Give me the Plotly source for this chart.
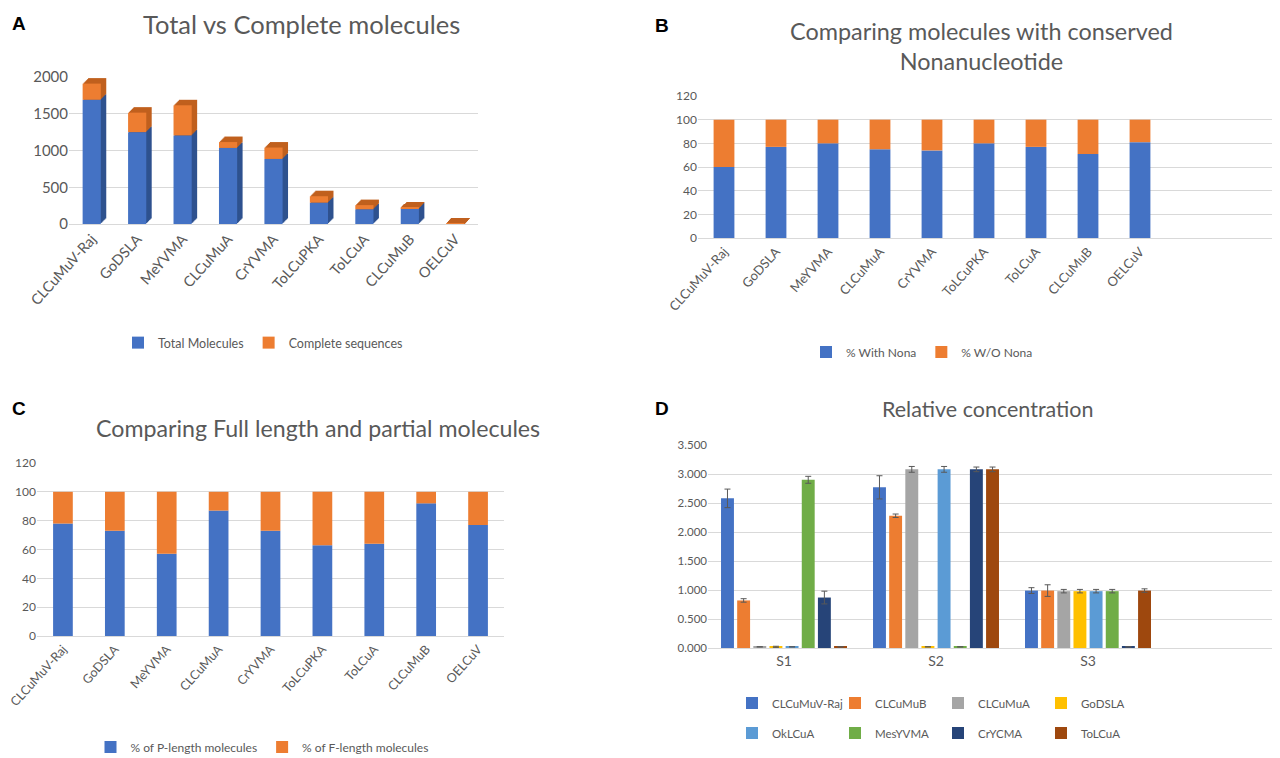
import plotly.graph_objects as go

# ---------------- data ----------------
cats = ["CLCuMuV-Raj", "GoDSLA", "MeYVMA", "CLCuMuA", "CrYVMA",
        "ToLCuPKA", "ToLCuA", "CLCuMuB", "OELCuV"]

# Panel A
total_molecules = [1690, 1250, 1205, 1035, 885, 290, 200, 212, 0]
complete_sequences = [220, 265, 410, 80, 155, 88, 57, 10, 6]
a_ticks = [0, 500, 1000, 1500, 2000]

# Panel B
with_nona = [60, 77, 80, 75, 74, 80, 77, 71, 81]
without_nona = [40, 23, 20, 25, 26, 20, 23, 29, 19]

# Panel C
p_length = [78, 73, 57, 87, 73, 63, 64, 92, 77]
f_length = [22, 27, 43, 13, 27, 37, 36, 8, 23]
pct_ticks = [0, 20, 40, 60, 80, 100, 120]

# Panel D
samples = ["S1", "S2", "S3"]
d_series = ["CLCuMuV-Raj", "CLCuMuB", "CLCuMuA", "GoDSLA",
            "OkLCuA", "MesYVMA", "CrYCMA", "ToLCuA"]
conc_clcumuv_raj = [2.58, 2.77, 0.99]
conc_clcumub = [0.82, 2.28, 0.99]
conc_clcumua = [0.02, 3.08, 0.98]
conc_godsla = [0.02, 0.02, 0.98]
conc_oklcua = [0.02, 3.08, 0.98]
conc_mesyvma = [2.90, 0.02, 0.98]
conc_crycma = [0.87, 3.08, 0.02]
conc_tolcua = [0.02, 3.08, 0.99]
err_clcumuv_raj = [0.16, 0.20, 0.05]
err_clcumub = [0.03, 0.03, 0.10]
err_clcumua = [0.0, 0.05, 0.03]
err_godsla = [0.01, 0.0, 0.03]
err_oklcua = [0.0, 0.05, 0.03]
err_mesyvma = [0.06, 0.0, 0.03]
err_crycma = [0.11, 0.04, 0.0]
err_tolcua = [0.0, 0.04, 0.03]
d_ticks = [0, 0.5, 1.0, 1.5, 2.0, 2.5, 3.0, 3.5]

# ---------------- styles ----------------
BLUE = "#4472C4"
ORANGE = "#ED7D31"
BLUE_DARK = "#2F528F"
ORANGE_DARK = "#C0601E"
d_colors = ["#4472C4", "#ED7D31", "#A5A5A5", "#FFC000",
            "#5B9BD5", "#70AD47", "#264478", "#9E480E"]
d_vals = [conc_clcumuv_raj, conc_clcumub, conc_clcumua, conc_godsla,
          conc_oklcua, conc_mesyvma, conc_crycma, conc_tolcua]
d_errs = [err_clcumuv_raj, err_clcumub, err_clcumua, err_godsla,
          err_oklcua, err_mesyvma, err_crycma, err_tolcua]

FONT = "Lato"
GRAY = "#595959"
GRID = "#D9D9D9"
W, H = 1280, 758
OFF = 8  # page body margin in the browser
RIGHT = W + OFF  # right edge of the figure, in page pixels

# pseudo-3D depth of panel A bars (style only)
DEPTH_X = 0.12     # category units
DEPTH_Y = 75       # value units
DEPTH_STEPS = 6
A_W = 0.4
ANGLE = -48


def px_x(a, b):
    return [(a - OFF) / W, (b - OFF) / W]


def px_y(top, bottom):
    return [1 - (bottom - OFF) / H, 1 - (top - OFF) / H]


def pxx(a):
    return (a - OFF) / W


def pxy(a):
    return 1 - (a - OFF) / H


fig = go.Figure()

# Panel A: depth faces, drawn back to front in small steps
for s in range(DEPTH_STEPS, 0, -1):
    k = s / DEPTH_STEPS
    fig.add_trace(go.Bar(x=cats, y=total_molecules,
                         base=[DEPTH_Y * k] * len(cats),
                         marker=dict(color=BLUE_DARK, line=dict(width=0)),
                         width=A_W, offset=-A_W / 2 + DEPTH_X * k,
                         xaxis="x", yaxis="y", showlegend=False,
                         hoverinfo="skip"))
    fig.add_trace(go.Bar(x=cats, y=complete_sequences,
                         base=[t + DEPTH_Y * k for t in total_molecules],
                         marker=dict(color=ORANGE_DARK, line=dict(width=0)),
                         width=A_W, offset=-A_W / 2 + DEPTH_X * k,
                         xaxis="x", yaxis="y", showlegend=False,
                         hoverinfo="skip"))
fig.add_trace(go.Bar(x=cats, y=total_molecules, name="Total Molecules",
                     marker=dict(color=BLUE, line=dict(width=0)),
                     width=A_W, offset=-A_W / 2,
                     xaxis="x", yaxis="y", legend="legend"))
fig.add_trace(go.Bar(x=cats, y=complete_sequences, base=total_molecules,
                     name="Complete sequences",
                     marker=dict(color=ORANGE, line=dict(width=0)),
                     width=A_W, offset=-A_W / 2,
                     xaxis="x", yaxis="y", legend="legend"))

# Panel B
fig.add_trace(go.Bar(x=cats, y=with_nona, name="% With Nona",
                     marker_color=BLUE, width=0.4, offset=-0.2,
                     xaxis="x2", yaxis="y2", legend="legend2"))
fig.add_trace(go.Bar(x=cats, y=without_nona, base=with_nona,
                     name="% W/O Nona", marker_color=ORANGE, width=0.4,
                     offset=-0.2, xaxis="x2", yaxis="y2", legend="legend2"))

# Panel C
fig.add_trace(go.Bar(x=cats, y=p_length, name="% of P-length molecules",
                     marker_color=BLUE, width=0.38, offset=-0.19,
                     xaxis="x3", yaxis="y3", legend="legend3"))
fig.add_trace(go.Bar(x=cats, y=f_length, base=p_length,
                     name="% of F-length molecules", marker_color=ORANGE,
                     width=0.38, offset=-0.19, xaxis="x3", yaxis="y3",
                     legend="legend3"))

# Panel D
for i, (nm, col, vals, errs) in enumerate(zip(d_series, d_colors, d_vals, d_errs)):
    fig.add_trace(go.Bar(
        x=samples, y=vals, name=nm, marker_color=col,
        error_y=dict(type="data", array=errs, color=GRAY, thickness=1, width=3),
        xaxis="x4", yaxis="y4",
        legend="legend4" if i < 4 else "legend5"))


def yax(domain, rng, ticks, font, fmt=None, anchor="x"):
    d = dict(domain=domain, range=rng, tickvals=ticks, showgrid=True,
             gridcolor=GRID, gridwidth=1, zeroline=False, showline=False,
             ticks="", tickfont=font, anchor=anchor, fixedrange=True,
             automargin=False)
    if fmt:
        d["tickformat"] = fmt
    return d


def xax(domain, rng, anchor, font, angle=ANGLE):
    return dict(domain=domain, range=rng, anchor=anchor, showgrid=False,
                showline=True, linecolor=GRID, linewidth=1, ticks="",
                tickangle=angle, tickfont=font, fixedrange=True,
                automargin=False)


def f(size):
    return dict(family=FONT, size=size, color=GRAY)


fig.update_layout(
    template="none",
    width=W, height=H,
    margin=dict(l=0, r=0, t=0, b=0, autoexpand=False),
    paper_bgcolor="white", plot_bgcolor="white",
    barmode="group", bargap=0.15, bargroupgap=0.2,
    font=dict(family=FONT, color=GRAY),
    # Panel A axes
    xaxis=xax(px_x(69, 478), [-0.5, 8.5], "y", f(14.5)),
    yaxis=yax(px_y(77, 224), [0, 2000], a_ticks, f(15), anchor="x"),
    # Panel B axes
    xaxis2=xax(px_x(698, RIGHT), [-0.5, -0.5 + (RIGHT - 698) / 52], "y2", f(13)),
    yaxis2=yax(px_y(96, 238), [0, 120], pct_ticks, f(12), anchor="x2"),
    # Panel C axes
    xaxis3=xax(px_x(37, 504), [-0.5, 8.5], "y3", f(12.5)),
    yaxis3=yax(px_y(463, 636), [0, 120], pct_ticks, f(12), anchor="x3"),
    # Panel D axes
    xaxis4=xax(px_x(708, RIGHT), [-0.5, -0.5 + (RIGHT - 708) / 152], "y4",
               f(14), angle=0),
    yaxis4=yax(px_y(445, 648), [0, 3.5], d_ticks, f(11.5), fmt=".3f",
               anchor="x4"),
    legend=dict(orientation="h", x=pxx(263), y=pxy(343), xanchor="center",
                yanchor="middle", font=f(12.5), traceorder="normal",
                bgcolor="rgba(0,0,0,0)"),
    legend2=dict(orientation="h", x=pxx(922), y=pxy(352), xanchor="center",
                 yanchor="middle", font=f(12), traceorder="normal",
                 bgcolor="rgba(0,0,0,0)"),
    legend3=dict(orientation="h", x=pxx(262), y=pxy(747), xanchor="center",
                 yanchor="middle", font=f(12), traceorder="normal",
                 bgcolor="rgba(0,0,0,0)"),
    legend4=dict(orientation="h", x=pxx(732), y=pxy(703), xanchor="left",
                 yanchor="middle", font=f(11.5), entrywidth=58,
                 traceorder="normal", bgcolor="rgba(0,0,0,0)"),
    legend5=dict(orientation="h", x=pxx(732), y=pxy(733), xanchor="left",
                 yanchor="middle", font=f(11.5), entrywidth=58,
                 traceorder="normal", bgcolor="rgba(0,0,0,0)"),
    showlegend=True,
)

letter_font = dict(family="Liberation Sans", size=19, color="black")
annots = [
    dict(text="Total vs Complete molecules", x=pxx(301), y=pxy(24), font=f(25.5)),
    dict(text="Comparing molecules with conserved<br>Nonanucleotide",
         x=pxx(981), y=pxy(46), font=f(23.4)),
    dict(text="Comparing Full length and partial molecules", x=pxx(318),
         y=pxy(428), font=f(23.2)),
    dict(text="Relative concentration", x=pxx(988), y=pxy(409), font=f(21.5)),
    dict(text="<b>A</b>", x=pxx(19), y=pxy(24), font=letter_font),
    dict(text="<b>B</b>", x=pxx(662), y=pxy(25), font=letter_font),
    dict(text="<b>C</b>", x=pxx(19), y=pxy(408), font=letter_font),
    dict(text="<b>D</b>", x=pxx(662), y=pxy(408), font=letter_font),
]
for a in annots:
    fig.add_annotation(xref="paper", yref="paper", showarrow=False,
                       xanchor="center", yanchor="middle", **a)

fig.write_html("out.html")
